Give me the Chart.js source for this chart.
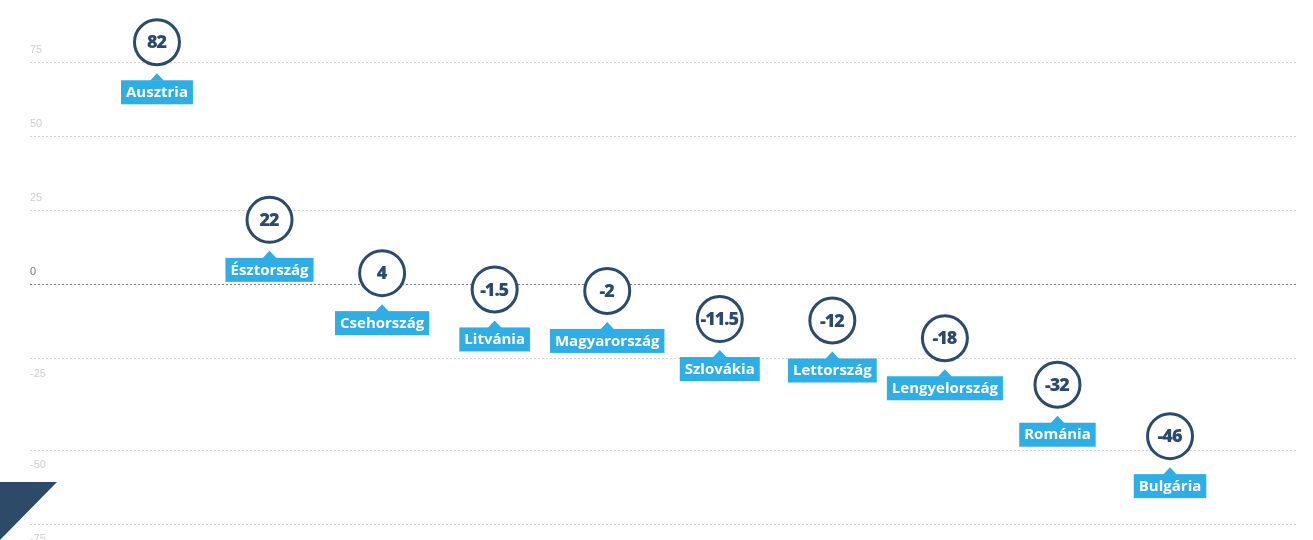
<!DOCTYPE html>
<html>
<head>
<meta charset="utf-8">
<script src="https://cdn.jsdelivr.net/npm/chart.js@4.4.1/dist/chart.umd.min.js"></script>
<style>
  html, body { margin: 0; padding: 0; background: #fff; }
  #wrap { width: 1313px; height: 540px; position: relative; }
</style>
</head>
<body>
<div id="wrap"><canvas id="chart"></canvas></div>
<script>
const categories = ['Ausztria', 'Észtország', 'Csehország', 'Litvánia', 'Magyarország',
  'Szlovákia', 'Lettország', 'Lengyelország', 'Románia', 'Bulgária'];
const values = [82, 22, 4, -1.5, -2, -11.5, -12, -18, -32, -46];
const yTicks = [75, 50, 25, 0, -25, -50, -75];

const navy = '#2c4a6b';
const blue = '#2eaee4';

// the original axis is stretched between -25 and -50
function warp(v) {
  if (v >= -25) return v;
  if (v >= -50) return -25 + (v + 25) * 1.241;
  return -56.02 + (v + 50);
}

class WarpScale extends Chart.LinearScale {
  getPixelForValue(value) {
    return super.getPixelForValue(warp(value));
  }
}
WarpScale.id = 'warp';
WarpScale.defaults = Chart.LinearScale.defaults;
Chart.register(WarpScale);

const labelPlugin = {
  id: 'labels',
  afterDatasetsDraw(chart) {
    const c = chart.ctx;
    const y = chart.scales.y;
    const meta = chart.getDatasetMeta(0);

    // y tick labels
    c.save();
    c.font = '11px "Liberation Sans", Arial, sans-serif';
    c.textAlign = 'left';
    yTicks.forEach(t => {
      const py = y.getPixelForValue(t);
      c.fillStyle = t === 0 ? '#777' : '#cfcfcf';
      if (t >= 0) {
        c.textBaseline = 'bottom';
        c.fillText(String(t), 30, py - 8);
      } else {
        c.textBaseline = 'top';
        c.fillText(String(t), 30, py + 9);
      }
    });
    c.restore();

    meta.data.forEach((pt, i) => {
      const px = pt.x, py = pt.y;
      c.save();
      // value inside circle
      c.fillStyle = navy;
      c.font = '800 18px "Open Sans", sans-serif';
      c.letterSpacing = '-1px';
      c.textAlign = 'center';
      c.textBaseline = 'middle';
      c.fillText(String(values[i]), px - 0.5, py + 1);

      // country tag
      c.letterSpacing = '0px';
      c.font = 'bold 15px "Open Sans", sans-serif';
      const w = c.measureText(categories[i]).width + 10;
      const top = py + 38;
      c.fillStyle = blue;
      c.fillRect(px - w / 2, top, w, 24);
      c.beginPath();
      c.moveTo(px - 7, top + 0.5);
      c.lineTo(px, top - 7);
      c.lineTo(px + 7, top + 0.5);
      c.closePath();
      c.fill();
      c.fillStyle = '#fff';
      c.fillText(categories[i], px, top + 12.5);
      c.restore();
    });

    // corner decoration
    c.save();
    c.fillStyle = '#2d4a68';
    c.beginPath();
    c.moveTo(0, 482);
    c.lineTo(57, 482);
    c.lineTo(0, 540);
    c.closePath();
    c.fill();
    c.restore();
  }
};

new Chart(document.getElementById('chart'), {
  type: 'scatter',
  data: {
    datasets: [{
      data: values.map((v, i) => ({ x: i, y: v })),
      pointRadius: 22.5,
      pointBorderWidth: 3,
      pointBackgroundColor: '#fff',
      pointBorderColor: navy,
      showLine: false
    }]
  },
  options: {
    responsive: true,
    maintainAspectRatio: false,
    animation: false,
    events: [],
    layout: { autoPadding: false, padding: { left: 30, right: 15, top: 0, bottom: 0 } },
    plugins: { legend: { display: false }, tooltip: { enabled: false } },
    scales: {
      x: { type: 'linear', min: -1.128, max: 10.137, display: false },
      y: {
        type: 'warp',
        min: -86.15,
        max: 96.28,
        afterBuildTicks: scale => { scale.ticks = yTicks.map(v => ({ value: v })); },
        ticks: { display: false },
        border: { display: false, dash: [2, 2] },
        grid: {
          drawTicks: false,
          lineWidth: 1,
          color: ctx => (ctx.tick && ctx.tick.value === 0 ? '#777' : '#d4d4d4')
        }
      }
    }
  },
  plugins: [labelPlugin]
});
</script>
</body>
</html>
